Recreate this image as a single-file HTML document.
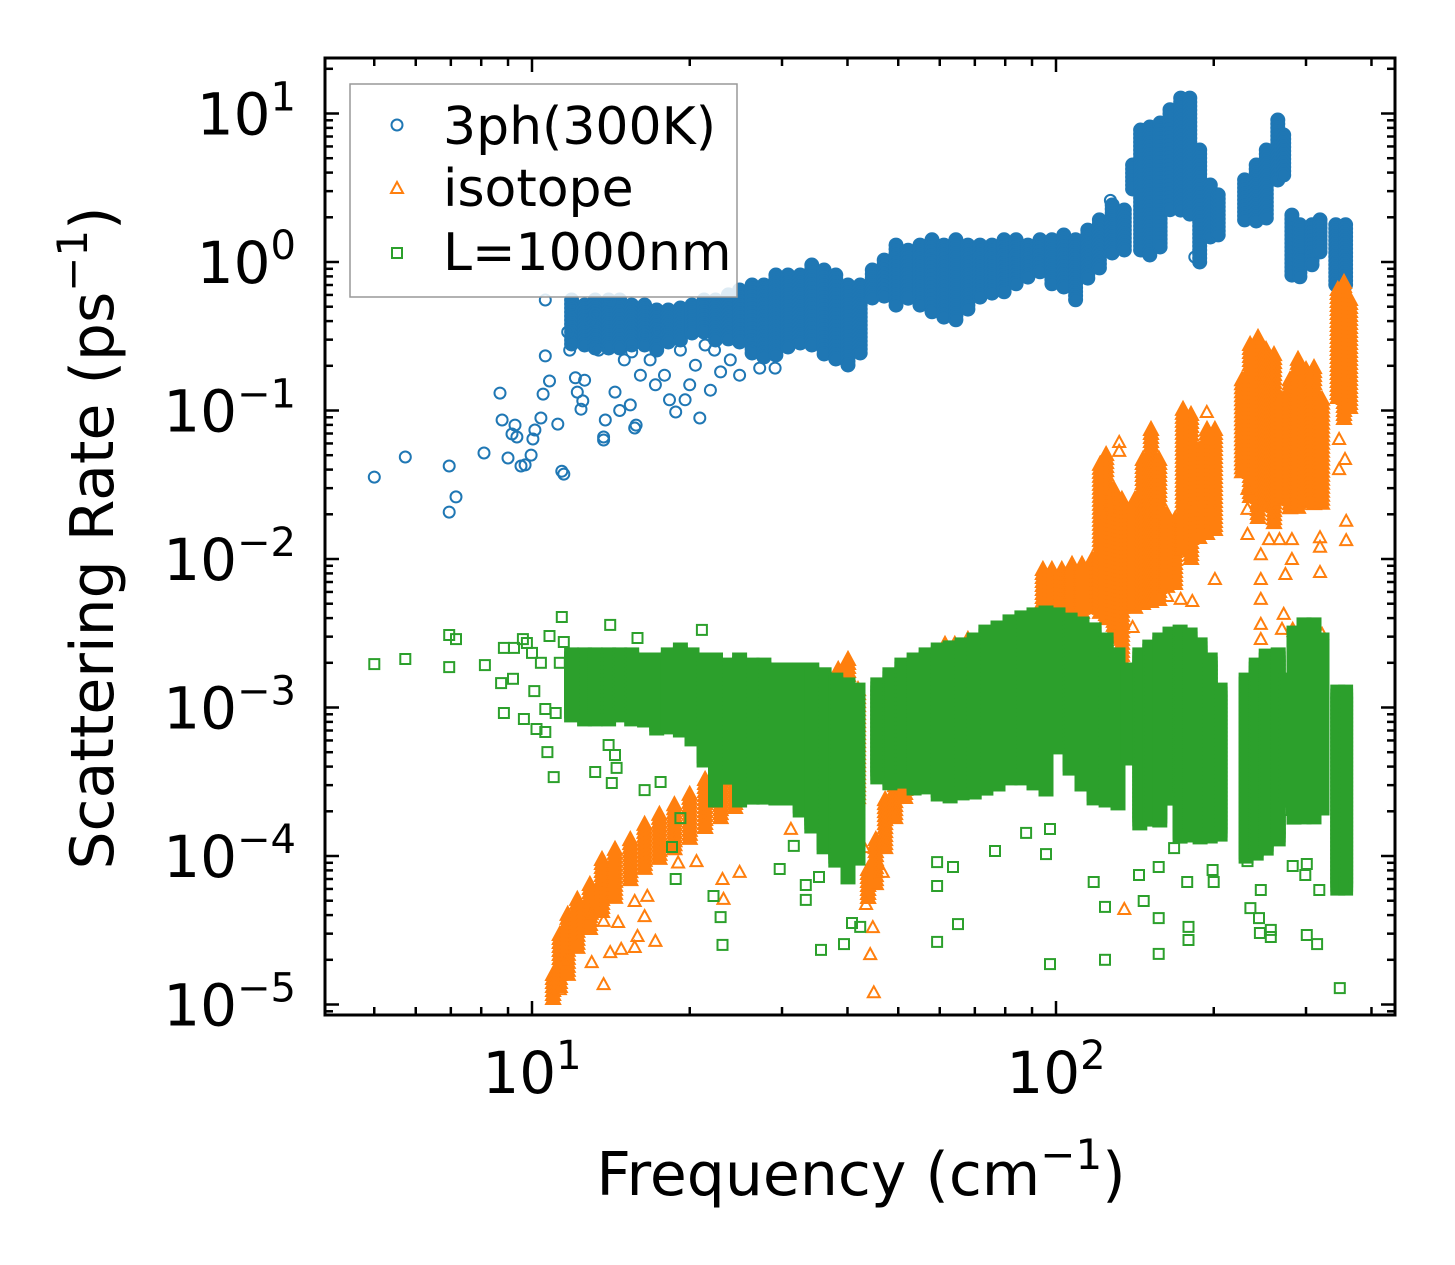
<!DOCTYPE html>
<html><head><meta charset="utf-8"><style>
html,body{margin:0;padding:0;background:#fff;}
svg{display:block;font-family:"DejaVu Sans","Liberation Sans",sans-serif;}
</style></head><body>
<svg id="chart" width="1455" height="1265" viewBox="0 0 1455 1265" xmlns="http://www.w3.org/2000/svg">
<rect width="1455" height="1265" fill="#fff"/>
<defs><clipPath id="plotclip"><rect x="325" y="58" width="1070" height="957"/></clipPath></defs>
<g id="marks" clip-path="url(#plotclip)"></g>
<rect x="325" y="58" width="1070" height="957" fill="none" stroke="#000" stroke-width="3"/>
<g id="ticks"></g>
<g id="labels"></g>
<text x="861" y="1195" font-size="60" text-anchor="middle">Frequency (cm<tspan font-size="42" dy="-26">−1</tspan><tspan dy="26">)</tspan></text>
<text transform="translate(113,538) rotate(-90)" font-size="60" text-anchor="middle">Scattering Rate (ps<tspan font-size="42" dy="-26">−1</tspan><tspan dy="26">)</tspan></text>
<g>
<rect x="350" y="84" width="387" height="213" fill="#fff" fill-opacity="0.85" stroke="#999" stroke-width="1.5"/>
<g><circle cx="397" cy="125" r="5.5" fill="none" stroke="#1f77b4" stroke-width="2"/><text x="443" y="144" font-size="52">3ph(300K)</text></g>
<g><path d="M397,182 L403,193 L391,193 Z" fill="none" stroke="#ff7f0e" stroke-width="2"/><text x="443" y="206" font-size="52">isotope</text></g>
<g><rect x="392" y="248" width="10" height="10" fill="none" stroke="#2ca02c" stroke-width="2"/><text x="443" y="270" font-size="52">L=1000nm</text></g>
</g>
</svg>
<script>
// ---------- data ----------
const blueFreq=[5.0,5.73,6.95,6.95,7.16,8.10,8.69,8.77,9.0,9.16,9.28,9.36,9.53,9.7,9.96,10.04,10.13,10.4,10.5,10.6,10.6,10.8,11.2,11.4,11.5,11.7,11.8,11.9,12.1,12.2,12.4,12.5,12.6,12.9,13.2,13.4,13.7,13.7,13.8,14.1,14.4,14.7,15.0,15.4,15.5,15.7,15.8,16.1,16.4,16.8,17.2,17.5,17.9,18.3,18.8,19.2,19.6,20.0,20.5,20.9,21.4,21.9,22.3,22.9,23.9,24.9,26.1,27.2,29.1,127,184];
const blueRate=[0.0356,0.0486,0.0423,0.0207,0.0262,0.0517,0.131,0.0863,0.0479,0.0695,0.0798,0.0663,0.0423,0.043,0.0501,0.0643,0.0739,0.089,0.129,0.233,0.555,0.158,0.081,0.039,0.0373,0.338,0.255,0.498,0.166,0.133,0.102,0.116,0.160,0.407,0.447,0.255,0.0633,0.0663,0.0863,0.555,0.133,0.1,0.219,0.109,0.248,0.0762,0.0798,0.173,0.322,0.219,0.149,0.348,0.173,0.118,0.0977,0.255,0.118,0.149,0.202,0.089,0.276,0.137,0.255,0.182,0.219,0.173,0.298,0.193,0.193,2.6,1.08];
const blueBandFreq=[11.9,12.6,13.2,14.0,14.7,15.5,16.4,17.3,18.2,19.2,20.2,21.3,22.4,23.7,24.9,26.3,27.7,29.2,30.8,32.5,34.2,36.1,38.0,40.1,42.3,44.6,47.0,49.5,52.2,55.0,58.0,61.1,64.4,67.9,71.6,75.5,79.6,83.9,88.4,93.2,98.2,103.5,109,115,121,128,135,140,145,151,158,165,173,180,188,197,204,229,241,252,265,272,282,292,308,319,342,357];
const blueBandHi=[0.555,0.513,0.555,0.555,0.555,0.513,0.513,0.475,0.475,0.49,0.513,0.555,0.555,0.6,0.648,0.70,0.70,0.817,0.817,0.817,0.955,0.883,0.817,0.70,0.70,0.883,1.03,1.30,1.20,1.30,1.41,1.30,1.41,1.30,1.30,1.30,1.41,1.41,1.30,1.41,1.41,1.52,1.41,1.64,1.92,2.42,2.24,4.5,7.74,8.11,8.63,10.6,12.7,12.7,5.68,3.30,2.83,3.57,4.50,5.68,9.04,7.17,2.07,1.78,1.78,1.92,1.78,1.78];
const blueBandLo=[0.276,0.276,0.255,0.255,0.264,0.276,0.276,0.255,0.276,0.298,0.322,0.322,0.298,0.298,0.276,0.236,0.219,0.236,0.255,0.276,0.276,0.236,0.219,0.202,0.236,0.555,0.555,0.513,0.555,0.513,0.44,0.407,0.407,0.475,0.555,0.60,0.60,0.70,0.756,0.817,0.70,0.648,0.555,0.756,0.883,1.11,1.20,3.05,1.20,1.08,1.20,2.14,2.24,2.07,0.985,1.41,1.52,1.92,1.78,1.92,3.57,3.85,0.817,0.792,0.955,1.11,0.70,0.679];

const isoFreq=[11.3,11.6,13.0,13.7,14.1,14.8,15.7,15.9,17.2,16.4,16.6,15.7,14.6,13.7,13.0,20.6,19.0,23.2,23.1,24.9,31.2,43.0,43.4,44.2,44.9,46.7,44.7,132,132,194,201,163,173,182,140,135,232,232,232,246,246,246,246,246,255,267,274,282,282,283,270,319,319,319,322,358,358,356,347,347,272,284];
const isoRate=[1.25e-5,1.93e-5,1.9e-5,1.35e-5,2.22e-5,2.33e-5,2.4e-5,2.85e-5,2.64e-5,3.88e-5,5.3e-5,4.9e-5,3.54e-5,3.6e-5,4.01e-5,9.1e-5,8.9e-5,5.06e-5,6.89e-5,7.7e-5,1.5e-4,1.13e-4,4.68e-5,2.15e-5,1.19e-5,7.7e-5,3.27e-5,0.0604,0.0526,0.0962,0.00722,0.00555,0.0053,0.00513,0.00343,4.33e-5,0.0292,0.0214,0.0145,0.0106,0.00722,0.0053,0.0036,0.00285,0.0134,0.0134,0.0078,0.0134,0.00985,0.00333,0.00333,0.0138,0.0119,0.00805,0.00308,0.0178,0.0132,0.0464,0.0633,0.0397,0.0042,0.00322];
const isoBandFreq=[10.97,11.3,11.7,12.2,12.9,13.6,14.4,15.4,16.4,17.5,18.7,20.0,21.4,22.9,24.4,26.1,27.8,29.7,31.8,33.9,36.2,38.4,40.1,41.9,43.8,45.3,47.2,49.3,51.5,53.8,56.2,58.7,61.4,64.1,67.9,71.6,76.5,81.7,87.3,94.4,98.2,102.6,107.3,112.1,117.2,121.4,124.6,129.0,133.6,141.5,146.5,151.8,157.3,162.9,168.7,174.7,181,187.5,194.2,201,226.5,234.6,242.9,251.6,260.6,270,279.6,289.6,300,310.7,321.8,345,354.5,364];
const isoBandHi=[1.58e-5,2.94e-5,4.01e-5,5.06e-5,6.38e-5,9.4e-5,1.1e-4,1.28e-4,1.62e-4,1.89e-4,2.2e-4,2.58e-4,3.25e-4,3.79e-4,4.43e-4,5.59e-4,6.53e-4,7.62e-4,8.89e-4,1.04e-3,1.31e-3,1.79e-3,2.09e-3,1.31e-3,8.05e-5,1.28e-4,2.38e-4,3.79e-4,5.17e-4,7.05e-4,8.89e-4,1.31e-3,2.64e-3,2.64e-3,2.85e-3,2.85e-3,2.44e-3,2.44e-3,2.44e-3,8.43e-3,8.43e-3,8.43e-3,9.12e-3,9.12e-3,9.85e-3,0.043,0.0501,0.0292,0.025,0.025,0.0464,0.0739,0.0464,0.0198,0.0183,0.101,0.0933,0.0542,0.0739,0.0739,0.16,0.276,0.308,0.255,0.236,0.118,0.16,0.219,0.187,0.193,0.118,0.648,0.722,0.555];
const isoBandLo=[1.07e-5,1.25e-5,1.58e-5,2.33e-5,3.18e-5,4.01e-5,5.06e-5,6.89e-5,8.05e-5,9.4e-5,1.1e-4,1.28e-4,1.5e-4,1.75e-4,2.04e-4,2.38e-4,2.78e-4,3.25e-4,3.79e-4,4.43e-4,5.59e-4,6.04e-4,4.43e-4,2.38e-4,5.06e-5,6.38e-5,1.1e-4,1.75e-4,2.38e-4,3.25e-4,4.43e-4,6.04e-4,1.12e-3,1.12e-3,9.55e-4,1.12e-3,1.12e-3,1.31e-3,1.12e-3,3.88e-3,4.2e-3,3.88e-3,4.2e-3,4.2e-3,4.54e-3,4.2e-3,3.88e-3,2.85e-3,2.09e-3,4.54e-3,4.9e-3,4.9e-3,5.3e-3,6.18e-3,6.68e-3,0.0115,9.85e-3,0.0134,0.0145,0.0157,0.0368,0.025,0.0183,0.0214,0.0169,0.025,0.0214,0.0214,0.0231,0.0231,0.0231,0.118,0.0863,0.101];

const bndFreq=[5.0,5.73,6.95,7.16,6.95,8.13,8.84,9.24,9.61,9.78,8.73,9.2,8.84,9.65,10.1,10.2,10.6,10.7,11.0,10.8,11.4,11.5,10.4,10.0,11.3,10.6,11.1,14.1,13.2,14.2,14.0,14.4,14.5,16.4,17.6,18.8,18.5,19.2,23.1,22.9,22.2,35.6,39.4,29.7,33.3,33.3,35.3,40.8,42.3,31.6,15.9,21.1,59.3,59.3,59.3,65.0,63.6,76.5,95.7,97.4,87.7,97.4,118,124,124,144,147,157,157,179,179,178,157,168,235,244,245,257,257,301,315,318,283,348,199,200,232,246,270,299,301,355];
const bndRate=[1.96e-3,2.12e-3,3.08e-3,2.89e-3,1.87e-3,1.93e-3,2.52e-3,2.52e-3,2.89e-3,2.72e-3,1.46e-3,1.56e-3,9.18e-4,8.37e-4,1.29e-3,7.16e-4,6.84e-4,5.01e-4,3.4e-4,3.03e-3,4.07e-3,2.76e-3,2.0e-3,2.33e-3,2.0e-3,9.77e-4,9.18e-4,3.6e-3,3.68e-4,3.1e-4,5.59e-4,4.79e-4,3.92e-4,2.78e-4,3.15e-4,7.0e-5,1.15e-4,1.8e-4,2.52e-5,3.88e-5,5.38e-5,2.33e-5,2.55e-5,8.17e-5,5.06e-5,6.38e-5,7.22e-5,3.54e-5,3.33e-5,1.17e-4,2.94e-3,3.33e-3,9.1e-5,6.28e-5,2.64e-5,3.48e-5,8.43e-5,1.08e-4,1.03e-4,1.52e-4,1.43e-4,1.87e-5,6.68e-5,4.54e-5,2.0e-5,7.45e-5,4.98e-5,3.82e-5,2.19e-5,2.72e-5,3.33e-5,6.68e-5,8.43e-5,1.13e-4,4.46e-5,3.82e-5,3.03e-5,2.85e-5,3.18e-5,2.94e-5,2.55e-5,5.9e-5,8.57e-5,1.29e-5,8.05e-5,6.68e-5,9.24e-5,5.9e-5,2.04e-4,7.45e-5,8.83e-5,6.58e-5];
const bndBandFreq=[11.9,12.6,13.2,14.0,14.7,15.5,16.4,17.3,18.2,19.2,20.2,21.3,22.4,23.7,24.9,26.3,27.7,29.2,30.8,32.5,34.2,36.1,38.0,40.1,41.9,45.7,48.2,50.8,53.6,56.5,59.6,62.8,66.2,69.8,73.5,77.5,81.7,86.1,90.8,95.7,100.9,106.4,112.1,118.2,124.6,131.3,137.1,144.5,151,157.8,165,172.5,180.3,188.4,196.9,205.7,230.6,241,251.8,265.5,275,284.6,297.4,310.7,321.8,345,357];
const bndBandHi=[2.26e-3,2.26e-3,2.26e-3,2.26e-3,2.26e-3,2.26e-3,2.09e-3,2.09e-3,2.26e-3,2.44e-3,2.26e-3,2.09e-3,2.09e-3,1.93e-3,2.09e-3,1.93e-3,1.93e-3,1.79e-3,1.79e-3,1.79e-3,1.79e-3,1.66e-3,1.53e-3,1.42e-3,1.31e-3,1.42e-3,1.66e-3,1.93e-3,2.09e-3,2.26e-3,2.44e-3,2.52e-3,2.64e-3,2.85e-3,3.22e-3,3.43e-3,3.77e-3,4.01e-3,4.2e-3,4.33e-3,4.2e-3,3.88e-3,3.65e-3,3.33e-3,2.85e-3,2.26e-3,1.79e-3,2.26e-3,2.55e-3,2.85e-3,3.12e-3,3.22e-3,3.08e-3,2.64e-3,2.09e-3,1.31e-3,1.53e-3,1.93e-3,2.22e-3,2.26e-3,1.53e-3,3.17e-3,3.6e-3,3.6e-3,2.85e-3,1.27e-3,1.27e-3];
const bndBandLo=[8.89e-4,8.24e-4,8.24e-4,8.24e-4,8.89e-4,8.24e-4,8.24e-4,7.05e-4,7.05e-4,7.05e-4,6.04e-4,4.43e-4,2.38e-4,3.25e-4,2.38e-4,2.38e-4,2.38e-4,2.38e-4,2.38e-4,2.04e-4,1.5e-4,1.1e-4,9.4e-5,6.89e-5,9.4e-5,3.25e-4,3.01e-4,3.01e-4,2.78e-4,2.78e-4,2.58e-4,2.5e-4,2.58e-4,2.7e-4,2.78e-4,3.01e-4,3.25e-4,3.35e-4,3.01e-4,2.78e-4,5.17e-4,3.79e-4,3.01e-4,2.38e-4,2.28e-4,2.28e-4,4.43e-4,1.67e-4,1.67e-4,1.75e-4,2.38e-4,1.34e-4,1.34e-4,1.34e-4,1.34e-4,1.34e-4,9.85e-5,9.85e-5,1.1e-4,1.28e-4,2.38e-4,1.83e-4,1.83e-4,1.83e-4,2.04e-4,5.9e-5,5.9e-5];

// ---------- axes ----------
const NS='http://www.w3.org/2000/svg';
function X(f){return 532+524*(Math.log10(f)-1);}
function Y(r){return 262-148.5*Math.log10(r);}
const marks=document.getElementById('marks');
const ticksG=document.getElementById('ticks');
const labelsG=document.getElementById('labels');
const COLORS={circle:'#1f77b4',tri:'#ff7f0e',square:'#2ca02c'};

function mk(kind,x,y,filled,big){
  let el;const c=COLORS[kind];
  if(kind==='circle'){el=document.createElementNS(NS,'circle');el.setAttribute('cx',x.toFixed(1));el.setAttribute('cy',y.toFixed(1));el.setAttribute('r',big?'6.5':'5.5');}
  else if(kind==='tri'){el=document.createElementNS(NS,'path');el.setAttribute('d',big?('M'+x.toFixed(1)+','+(y-8).toFixed(1)+' l7,13 l-14,0 Z'):('M'+x.toFixed(1)+','+(y-7).toFixed(1)+' l6,11 l-12,0 Z'));}
  else {const s=big?13:10;el=document.createElementNS(NS,'rect');el.setAttribute('x',(x-s/2).toFixed(1));el.setAttribute('y',(y-s/2).toFixed(1));el.setAttribute('width',s);el.setAttribute('height',s);}
  el.setAttribute('stroke',c);
  el.setAttribute('fill',filled?c:'none');el.setAttribute('stroke-width','2');
  return el;
}
function series(name,kind,fs,rs,bf,bh,bl){
  const g=document.createElementNS(NS,'g');
  
  
  for(let i=0;i<bf.length;i++){
    const x=X(bf[i]),y0=Y(bh[i]),y1=Y(bl[i]);
    for(let y=y0;y<=y1+0.1;y+=4){
      const m=mk(kind,x,y,true,true);
      
      
      g.appendChild(m);
    }
  }
  for(let i=0;i<fs.length;i++){
    const m=mk(kind,X(fs[i]),Y(rs[i]),false,false);
    
    
    g.appendChild(m);
  }
  marks.appendChild(g);
}
series('series-3ph','circle',blueFreq,blueRate,blueBandFreq,blueBandHi,blueBandLo);
series('series-isotope','tri',isoFreq,isoRate,isoBandFreq,isoBandHi,isoBandLo);
series('series-boundary','square',bndFreq,bndRate,bndBandFreq,bndBandHi,bndBandLo);

function line(x1,y1,x2,y2){
  const l=document.createElementNS(NS,'line');
  l.setAttribute('x1',x1);l.setAttribute('y1',y1);l.setAttribute('x2',x2);l.setAttribute('y2',y2);
  l.setAttribute('stroke','#000');l.setAttribute('stroke-width','2.5');
  
  
  ticksG.appendChild(l);
}
const xMajor=[10,100];
const xMajorLabels=['1','2'];
for(let d=1;d<=100;d*=10){for(let k=1;k<10;k++){const f=d*k;const x=X(f);if(x<326||x>1394)continue;const L=(k===1)?14:8;line(x,1015,x,1015-L);line(x,58,x,58+L);}}
const yMajorExp=[-5,-4,-3,-2,-1,0,1];
for(let e=-6;e<=1;e++){for(let k=1;k<10;k++){const r=k*Math.pow(10,e);const y=Y(r);if(y<59||y>1014)continue;const L=(k===1)?14:8;line(325,y,325+L,y);line(1395,y,1395-L,y);}}
function supLabel(x,y,anchor,exp){
  const t=document.createElementNS(NS,'text');
  t.setAttribute('x',x);t.setAttribute('y',y);t.setAttribute('font-size','58');t.setAttribute('text-anchor',anchor);
  
  
  t.appendChild(document.createTextNode('10'));
  const s=document.createElementNS(NS,'tspan');s.setAttribute('font-size','40');s.setAttribute('dy','-24');
  s.textContent=exp;t.appendChild(s);
  labelsG.appendChild(t);
}
xMajor.forEach((f,i)=>supLabel(X(f),1093,'middle',xMajorLabels[i]));
yMajorExp.forEach(e=>supLabel(296,Y(Math.pow(10,e))+21,'end',e<0?'−'+(-e):String(e)));
</script>
</body></html>
